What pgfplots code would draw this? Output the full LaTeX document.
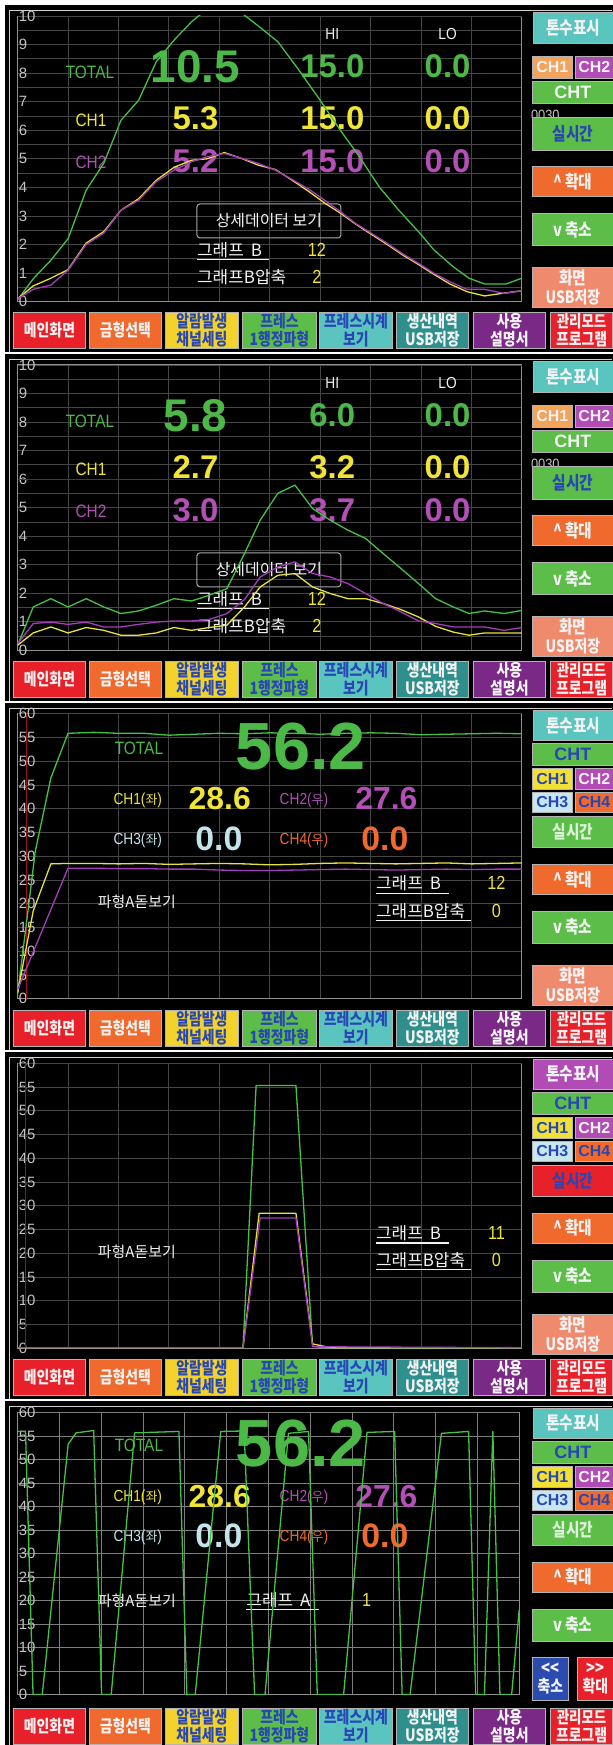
\documentclass[border=0pt]{standalone}
\usepackage{pgfplots}
\pgfplotsset{compat=1.18}
\usepackage{fontspec}
\setmainfont{Liberation Sans}
\newfontfamily\nar[FakeStretch=0.86]{Liberation Sans}
\newfontfamily\kr{Noto Sans CJK KR}
\newfontfamily\krn[FakeStretch=0.82]{Noto Sans CJK KR}
\newcommand\fsz[1]{\fontsize{#1}{#1}\selectfont}
% colours
\definecolor{gl}{HTML}{44C244}
\definecolor{yl}{HTML}{E6E23C}
\definecolor{pl}{HTML}{A43CBC}
\definecolor{gt}{HTML}{4CB848}
\definecolor{yt}{HTML}{F0E436}
\definecolor{pt}{HTML}{B44FB8}
\definecolor{bt}{HTML}{C4E4EC}
\definecolor{ot}{HTML}{EF6A2C}
\definecolor{wt}{HTML}{F2F2F2}
\definecolor{lg}{HTML}{C4C4C4}
\definecolor{gridc}{HTML}{454545}
\definecolor{gridd}{HTML}{7E7E7E}
\definecolor{bordc}{HTML}{909090}
\definecolor{framec}{HTML}{D0D0D0}
\definecolor{boxc}{HTML}{A8A8A8}
\definecolor{btnb}{HTML}{B4B4B4}
\definecolor{redl}{HTML}{9A1616}
\definecolor{bRed}{HTML}{E8202A}
\definecolor{bOra}{HTML}{EF6A2C}
\definecolor{bYel}{HTML}{F2D22C}
\definecolor{bGrn}{HTML}{5CBD48}
\definecolor{bTeal}{HTML}{5AC4BF}
\definecolor{bDTeal}{HTML}{2F8F8C}
\definecolor{bPur}{HTML}{7A2A86}
\definecolor{bMag}{HTML}{B04CB4}
\definecolor{bLOra}{HTML}{F4A35A}
\definecolor{bSal}{HTML}{F08A6C}
\definecolor{bLBlue}{HTML}{C8E6EE}
\definecolor{bBlue}{HTML}{2A4CB0}
\definecolor{bCY}{HTML}{F2E034}
\definecolor{tBlue}{HTML}{2846B4}
\definecolor{lgt}{HTML}{DDF2DA}

\newcommand\putt[6][base]{\node[overlay, anchor=#1, inner sep=0pt, text=#4, font=#5] at (#2,-#3) {#6};}
\newcommand\btn[7]{%
  \fill[overlay, #5] (#1,-#2) rectangle (#3,-#4);
  \draw[overlay, btnb, line width=1bp] (#1+0.5,-#2-0.5) rectangle (#3-0.5,-#4+0.5);
  \node[overlay, text=#6, align=center, inner sep=0pt, font=\krn\bfseries\fontsize{17}{18.5}\selectfont] at ({(#1+#3)/2},{-(#2+#4)/2}) {#7};}

\newcommand\panelbg[1]{%
  \fill[black] (5,-5) rectangle (613,-#1);
  \draw[framec, line width=0.9bp] (9.5,-#1) -- (9.5,-10.5) -- (612.5,-10.5);}

\newcommand\bottomrow{%
  \btn{13}{312}{86}{349}{bRed}{wt}{메인화면}
  \btn{89}{312}{162}{349}{bOra}{wt}{금형선택}
  \btn{165}{312}{239}{349}{bYel}{tBlue}{알람발생\\채널세팅}
  \btn{242}{312}{317}{349}{bGrn}{tBlue}{프레스\\1행정파형}
  \btn{319}{312}{393}{349}{bTeal}{tBlue}{프레스시계\\보기}
  \btn{396}{312}{469}{349}{bDTeal}{wt}{생산내역\\USB저장}
  \btn{473}{312}{546}{349}{bPur}{wt}{사용\\설명서}
  \btn{550}{312}{613.5}{349}{bRed}{wt}{\fontsize{16.5}{18.5}\selectfont 관리모드\\프로그램}}

\newcommand\rightA{%
  \btn{533}{12}{614}{44}{bTeal}{wt}{\fsz{18}톤수표시}
  \btn{532}{56}{573}{79}{bLOra}{wt}{\rmfamily\bfseries\fsz{16}CH1}
  \btn{575}{56}{614}{79}{bMag}{wt}{\rmfamily\bfseries\fsz{16}CH2}
  \btn{532}{81}{614}{104}{bGrn}{wt}{\rmfamily\bfseries\fsz{18}CHT}
  \putt[base west]{531}{121}{lg}{\nar\fsz{15}}{0030}
  \btn{532}{117}{614}{151}{bGrn}{tBlue}{\fsz{18}실시간}
  \btn{532}{166}{614}{197}{bOra}{wt}{\fsz{18}\textasciicircum\ 확대}
  \btn{532}{213}{614}{246}{bGrn}{wt}{\fsz{18}v\ 축소}
  \btn{532}{267}{614}{308}{bSal}{wt}{\fontsize{18}{19.5}\selectfont 화면\\USB저장}}

\newcommand\rightB[4]{%
  \btn{533}{12}{614}{43}{#1}{wt}{\fsz{18}톤수표시}
  \btn{532}{45}{614}{68}{bGrn}{tBlue}{\rmfamily\bfseries\fsz{18}CHT}
  \btn{532}{70}{573}{92}{bCY}{tBlue}{\rmfamily\bfseries\fsz{16}CH1}
  \btn{575}{70}{614}{92}{bMag}{wt}{\rmfamily\bfseries\fsz{16}CH2}
  \btn{532}{94}{573}{115}{bLBlue}{tBlue}{\rmfamily\bfseries\fsz{16}CH3}
  \btn{575}{94}{614}{115}{bOra}{tBlue}{\rmfamily\bfseries\fsz{16}CH4}
  \btn{532}{118}{614}{150}{#2}{#3}{\fsz{18}실시간}
  \btn{532}{166}{614}{197}{bOra}{wt}{\fsz{18}\textasciicircum\ 확대}
  \btn{532}{213}{614}{246}{bGrn}{wt}{\fsz{18}v\ 축소}
  #4}

\newcommand\panelAtext[9]{%
  \putt{332.4}{39.3}{wt}{\nar\fsz{16}}{HI}
  \putt{447.7}{39.3}{wt}{\nar\fsz{16}}{LO}
  \putt{90}{79}{gt}{\nar\fsz{18}}{TOTAL}
  \putt{195.5}{83}{gt}{\bfseries\fsz{46}}{#1}
  \putt{332.4}{78}{gt}{\bfseries\fsz{33}}{#2}
  \putt{447.7}{78}{gt}{\bfseries\fsz{33}}{#3}
  \putt{91}{126.5}{yt}{\nar\fsz{18}}{CH1}
  \putt{195.5}{130}{yt}{\bfseries\fsz{33}}{#4}
  \putt{332.4}{130}{yt}{\bfseries\fsz{33}}{#5}
  \putt{447.7}{130}{yt}{\bfseries\fsz{33}}{#6}
  \putt{91}{169}{pt}{\nar\fsz{18}}{CH2}
  \putt{195.5}{173}{pt}{\bfseries\fsz{33}}{#7}
  \putt{332.4}{173}{pt}{\bfseries\fsz{33}}{#8}
  \putt{447.7}{173}{pt}{\bfseries\fsz{33}}{#9}
  \draw[boxc, line width=1bp, rounded corners=3bp] (197,-204) rectangle (341,-238);
  \putt{269}{227}{wt}{\kr\fsz{16}}{상세데이터 보기}
  \putt[base west]{197}{256.5}{wt}{\kr\fsz{17}}{그래프\hspace{7bp}B}
  \draw[wt, line width=1.1bp] (197,-259.5) -- (269,-259.5);
  \putt{317}{257}{yt}{\nar\fsz{19}}{12}
  \putt[base west]{197}{284}{wt}{\kr\fsz{17}}{그래프B압축}
  \putt{317}{284}{yt}{\nar\fsz{19}}{2}}

\newcommand\chvals[4]{%
  \putt{139}{56.3}{gt}{\nar\fsz{18}}{TOTAL}
  \putt{301}{#1}{gt}{\bfseries\fsz{67}}{56.2}
  \putt[base west]{113.4}{106.3}{yt}{\nar\fsz{16}}{CH1({\kr\fsz{13}좌})}
  \putt{219.8}{#2}{yt}{\bfseries\fsz{32}}{28.6}
  \putt[base west]{279.6}{106.3}{pt}{\nar\fsz{16}}{CH2({\kr\fsz{13}우})}
  \putt{386.5}{#2}{pt}{\bfseries\fsz{32}}{27.6}
  \putt[base west]{113.4}{146.3}{bt}{\nar\fsz{16}}{CH3({\kr\fsz{13}좌})}
  \putt{219}{#3}{bt}{\bfseries\fsz{34}}{0.0}
  \putt[base west]{279.6}{146.3}{ot}{\nar\fsz{16}}{CH4({\kr\fsz{13}우})}
  \putt{385}{#3}{ot}{\bfseries\fsz{34}}{0.0}
  \putt[base west]{97.8}{#4}{wt}{\kr\fsz{15}}{파형A돋보기}}

\pgfplotsset{
  gridA/.style={scale only axis, anchor=north west,
    axis line style={draw=bordc, line width=0.9bp},
    major tick length=0pt, minor tick length=0pt,
    xtick style={draw=none}, ytick style={draw=none},
    xticklabels={},
    grid=both,
    major grid style={draw=gridc, line width=0.8bp},
    minor grid style={draw=gridc, line width=0.8bp},
    yticklabel style={anchor=west, inner sep=0pt, xshift=1bp, text=lg, font=\fsz{15}},
    /pgf/number format/assume math mode=true,
    extra y tick style={tick label style={anchor=north west}},
  },
  plotB/.style={scale only axis, anchor=north west, hide axis, clip=true},
  ln/.style={line width=1.3bp, line join=round},
}

\begin{document}
\begin{tikzpicture}
\begin{scope}[x=1bp,y=1bp]
\clip (0,0) rectangle (613,-1745);
\fill[white] (0,0) rectangle (613,-1745);

%================ PANEL 1 =================
\panelbg{352}
\end{scope}
\begin{axis}[gridA, width=504.4bp, height=285.7bp, at={(17.6bp,-16bp)},
  xmin=0, xmax=10, ymin=0, ymax=10, xtick={0,...,10}, ytick={0,...,9},
  minor ytick={0.5,1.5,...,9.5}, extra y ticks={10}]
\end{axis}
\begin{scope}[x=1bp,y=1bp]
\panelAtext{10.5}{15.0}{0.0}{5.3}{15.0}{0.0}{5.2}{15.0}{0.0}
\rightA
\bottomrow
\end{scope}
\begin{axis}[plotB, width=504.4bp, height=285.7bp, at={(17.6bp,-16bp)},
  xmin=0, xmax=10, ymin=0, ymax=10]
\addplot[gl, ln] coordinates {(0,0.06)(0.31,0.8)(0.66,1.45)(1.0,2.2)(1.36,3.9)(1.71,4.85)(2.05,6.35)(2.4,7.05)(2.75,8.4)(3.1,9.15)(3.45,9.8)(3.8,10.3)(4.05,10.6)(4.3,10.3)(4.81,9.6)(5.16,9.1)(5.54,8.2)(6.0,7.05)(6.4,6.0)(6.78,5.07)(7.17,4.02)(7.56,3.2)(7.98,2.39)(8.26,1.8)(8.64,1.22)(8.95,0.82)(9.26,0.62)(9.69,0.62)(10,0.82)};
\addplot[yl, ln] coordinates {(0,0.1)(0.31,0.55)(0.66,0.82)(1.0,1.12)(1.36,2.05)(1.71,2.45)(2.05,3.2)(2.4,3.6)(2.75,4.25)(3.1,4.7)(3.45,4.95)(3.76,5.0)(4.1,5.22)(4.46,5.0)(4.77,4.78)(5.12,4.62)(5.47,4.22)(5.78,3.85)(6.09,3.45)(6.4,3.1)(6.7,2.72)(7.02,2.35)(7.33,2.0)(7.64,1.63)(7.95,1.3)(8.26,0.95)(8.57,0.62)(8.91,0.35)(9.26,0.2)(9.65,0.3)(10,0.38)};
\addplot[pl, ln] coordinates {(0,0.1)(0.31,0.43)(0.66,0.58)(1.0,1.1)(1.36,2.0)(1.71,2.4)(2.05,3.2)(2.4,3.55)(2.75,4.2)(3.1,4.6)(3.45,4.9)(3.76,5.07)(4.1,5.19)(4.46,5.01)(4.77,4.84)(5.12,4.6)(5.47,4.25)(5.78,3.93)(6.09,3.55)(6.4,3.15)(6.7,2.74)(7.02,2.39)(7.33,2.04)(7.64,1.67)(7.95,1.34)(8.26,0.99)(8.57,0.7)(8.91,0.43)(9.26,0.43)(9.65,0.29)(10,0.38)};
\end{axis}

%================ PANEL 2 =================
\begin{scope}[x=1bp,y=1bp,yshift=-349bp]\panelbg{352}\end{scope}
\begin{axis}[gridA, width=504.4bp, height=285.5bp, at={(17.6bp,-365bp)},
  xmin=0, xmax=10, ymin=0, ymax=10, xtick={0,...,10}, ytick={0,...,9},
  minor ytick={0.5,1.5,...,9.5}, extra y ticks={10}]
\end{axis}
\begin{scope}[x=1bp,y=1bp,yshift=-349bp]
\panelAtext{5.8}{6.0}{0.0}{2.7}{3.2}{0.0}{3.0}{3.7}{0.0}
\rightA
\bottomrow
\end{scope}
\begin{axis}[plotB, width=504.4bp, height=285.5bp, at={(17.6bp,-365bp)},
  xmin=0, xmax=10, ymin=0, ymax=10]
\addplot[redl, line width=1bp] coordinates {(0,6)(10,6)};
\addplot[gl, ln] coordinates {(0,0.18)(0.31,1.52)(0.66,1.81)(1.0,1.52)(1.36,1.81)(1.71,1.52)(2.05,1.29)(2.4,1.38)(2.75,1.58)(3.1,1.81)(3.45,1.73)(3.8,1.93)(4.15,2.16)(4.5,3.39)(4.81,4.56)(5.16,5.5)(5.5,5.79)(5.85,4.97)(6.2,4.56)(6.55,4.21)(6.9,3.92)(7.25,3.39)(7.6,2.87)(7.95,2.34)(8.29,1.81)(8.64,1.52)(8.95,1.29)(9.26,1.38)(9.65,1.29)(10,1.40)};
\addplot[yl, ln] coordinates {(0,0.18)(0.31,0.61)(0.66,0.82)(1.0,0.61)(1.36,0.8)(1.71,0.7)(2.05,0.53)(2.4,0.53)(2.75,0.61)(3.1,0.8)(3.45,0.7)(3.8,0.8)(4.15,0.88)(4.5,1.52)(4.81,2.22)(5.16,2.63)(5.5,2.69)(5.85,2.22)(6.2,1.99)(6.55,1.81)(6.9,1.81)(7.25,1.64)(7.6,1.43)(7.95,1.17)(8.29,0.84)(8.64,0.64)(8.95,0.53)(9.26,0.61)(9.65,0.61)(10,0.61)};
\addplot[pl, ln] coordinates {(0,0.23)(0.31,0.94)(0.66,0.99)(1.0,0.91)(1.36,0.99)(1.71,0.82)(2.05,0.82)(2.4,0.91)(2.75,0.99)(3.1,1.03)(3.45,1.03)(3.8,1.08)(4.15,1.29)(4.5,1.78)(4.81,2.57)(5.16,2.92)(5.5,3.1)(5.85,2.69)(6.2,2.57)(6.55,2.34)(6.9,1.99)(7.25,1.64)(7.6,1.35)(7.95,1.03)(8.29,0.94)(8.64,0.82)(8.95,0.82)(9.26,0.82)(9.65,0.7)(10,0.8)};
\end{axis}

%================ PANEL 3 =================
\begin{scope}[x=1bp,y=1bp,yshift=-698bp]\panelbg{352}\end{scope}
\begin{axis}[gridA, width=504.4bp, height=285bp, at={(17.6bp,-714bp)},
  xmin=0, xmax=10, ymin=0, ymax=60, xtick={0,...,10}, ytick={0,5,...,55},
  extra y ticks={60}]
\end{axis}
\begin{scope}[x=1bp,y=1bp,yshift=-698bp]
\chvals{72}{112}{153}{209.7}
\putt[base west]{376}{192}{wt}{\kr\fsz{17}}{그래프\hspace{7bp}B}
\draw[wt, line width=1.1bp] (376,-195.3) -- (449,-195.3);
\putt{496.6}{192}{yt}{\nar\fsz{19}}{12}
\putt[base west]{376}{219.7}{wt}{\kr\fsz{17}}{그래프B압축}
\draw[wt, line width=1.1bp] (376,-223) -- (471,-223);
\putt{496.6}{219.7}{yt}{\nar\fsz{19}}{0}
\rightB{bTeal}{bGrn}{lgt}{\btn{532}{267}{614}{308}{bSal}{wt}{\fontsize{18}{19.5}\selectfont 화면\\USB저장}}
\bottomrow
\end{scope}
\begin{axis}[plotB, width=504.4bp, height=285bp, at={(17.6bp,-714bp)},
  xmin=0, xmax=10, ymin=0, ymax=60]
\addplot[redl, line width=1bp] coordinates {(0.18,0)(0.18,60)};
\addplot[gl, ln] coordinates {(0,1)(0.2,18)(0.35,31)(0.66,46.5)(1.0,55.9)(1.5,56.1)(2.0,55.9)(2.5,55.9)(3.0,55.5)(3.5,55.7)(4.0,55.9)(4.5,55.8)(5.0,56.0)(5.5,55.9)(6.0,55.7)(6.5,55.9)(7.0,56.0)(7.5,55.9)(8.0,55.6)(8.5,55.7)(9.0,55.8)(9.5,55.9)(10,55.8)};
\addplot[yl, ln] coordinates {(0,1.2)(0.31,18.5)(0.66,28.4)(1.0,28.5)(1.5,28.5)(2.0,28.4)(2.5,28.5)(3.0,28.3)(3.5,28.4)(4.0,28.5)(4.5,28.4)(5.0,28.2)(5.5,28.3)(6.0,28.5)(6.5,28.6)(7.0,28.5)(7.5,28.4)(8.0,28.5)(8.5,28.6)(9.0,28.4)(9.5,28.5)(10,28.6)};
\addplot[pl, ln] coordinates {(0,1.9)(1.0,27.5)(1.5,27.5)(2.0,27.4)(2.5,27.4)(3.0,27.3)(3.5,27.3)(4.0,27.1)(4.5,27.0)(5.0,27.0)(5.5,27.1)(6.0,27.2)(6.5,27.3)(7.0,27.2)(7.5,27.1)(8.0,27.2)(8.5,27.3)(9.0,27.2)(9.5,27.3)(10,27.3)};
\end{axis}

%================ PANEL 4 =================
\begin{scope}[x=1bp,y=1bp,yshift=-1047bp]\panelbg{352}\end{scope}
\begin{axis}[gridA, width=504.4bp, height=285bp, at={(17.6bp,-1063.5bp)},
  xmin=0, xmax=10, ymin=0, ymax=60, xtick={0,...,10}, ytick={0,5,...,55},
  extra y ticks={60}]
\end{axis}
\begin{scope}[x=1bp,y=1bp,yshift=-1047bp]
\putt[base west]{97.8}{210.7}{wt}{\kr\fsz{15}}{파형A돋보기}
\putt[base west]{376}{193}{wt}{\kr\fsz{17}}{그래프\hspace{7bp}B}
\draw[wt, line width=1.1bp] (376,-196.3) -- (449,-196.3);
\putt{496.6}{193}{yt}{\nar\fsz{19}}{11}
\putt[base west]{376}{219.7}{wt}{\kr\fsz{17}}{그래프B압축}
\draw[wt, line width=1.1bp] (376,-223) -- (471,-223);
\putt{496.6}{219.7}{yt}{\nar\fsz{19}}{0}
\rightB{bMag}{bRed}{tBlue}{\btn{532}{267}{614}{308}{bSal}{wt}{\fontsize{18}{19.5}\selectfont 화면\\USB저장}}
\bottomrow
\end{scope}
\begin{axis}[plotB, width=504.4bp, height=285bp, at={(17.6bp,-1063.5bp)},
  xmin=0, xmax=10, ymin=0, ymax=60]
\addplot[redl, line width=1bp] coordinates {(0.155,0)(0.155,60)};
\addplot[gl, ln] coordinates {(0,0.1)(4.47,0.1)(4.73,55.3)(5.52,55.3)(5.85,0.4)(6.1,0.1)(10,0.1)};
\addplot[yl, ln] coordinates {(0,0.1)(4.47,0.1)(4.79,28.4)(5.52,28.4)(5.85,0.9)(6.12,0.3)(6.3,0.1)(10,0.1)};
\addplot[pl, ln] coordinates {(0,0.1)(4.47,0.1)(4.81,27.4)(5.52,27.4)(5.85,0.3)(10,0.1)};
\end{axis}

%================ PANEL 5 =================
\begin{scope}[x=1bp,y=1bp,yshift=-1396bp]\panelbg{349}\end{scope}
\begin{axis}[gridA, width=501.7bp, height=282bp, at={(17.6bp,-1413bp)},
  xmin=0, xmax=12, ymin=0, ymax=60, xtick={0,...,12}, ytick={0,5,...,55},
  extra y ticks={60}, major grid style={draw=gridd, line width=0.8bp}]
\end{axis}
\begin{scope}[x=1bp,y=1bp,yshift=-1396bp]
\chvals{70.7}{111.7}{152.3}{210.7}
\putt[base west]{246.3}{210.7}{wt}{\kr\fsz{17}}{그래프\hspace{7bp}A}
\draw[wt, line width=1.1bp] (246.3,-214) -- (319,-214);
\putt{366.7}{210.7}{yt}{\nar\fsz{19}}{1}
\rightB{bTeal}{bGrn}{lgt}{%
  \btn{532}{261}{569}{305}{bBlue}{wt}{\fontsize{18}{19.5}\selectfont <{}<\\축소}
  \btn{577}{261}{614}{305}{bRed}{wt}{\fontsize{18}{19.5}\selectfont >{}>\\확대}}
\bottomrow
\end{scope}
\begin{axis}[plotB, width=501.7bp, height=282bp, at={(17.6bp,-1413bp)},
  xmin=0, xmax=12, ymin=0, ymax=60]
\addplot[gl, ln] coordinates {(0,56)(0.19,56)(0.37,0)(0.59,0)(1.21,53.3)(1.40,55.7)(1.82,56.2)(2.01,0)(2.24,0)(2.80,55.7)(3.86,56)(4.05,0)(4.25,0)(4.86,56)(5.42,56.1)(5.67,0)(5.92,0)(6.48,55.6)(6.96,56)(7.17,0)(7.8,0)(8.36,55.8)(9.02,56)(9.2,0)(9.39,0)(10.14,55.6)(10.79,56)(10.96,0)(11.17,0)(11.37,56)(11.54,0)(11.82,0)(12,18)};
\end{axis}
\end{tikzpicture}
\end{document}
